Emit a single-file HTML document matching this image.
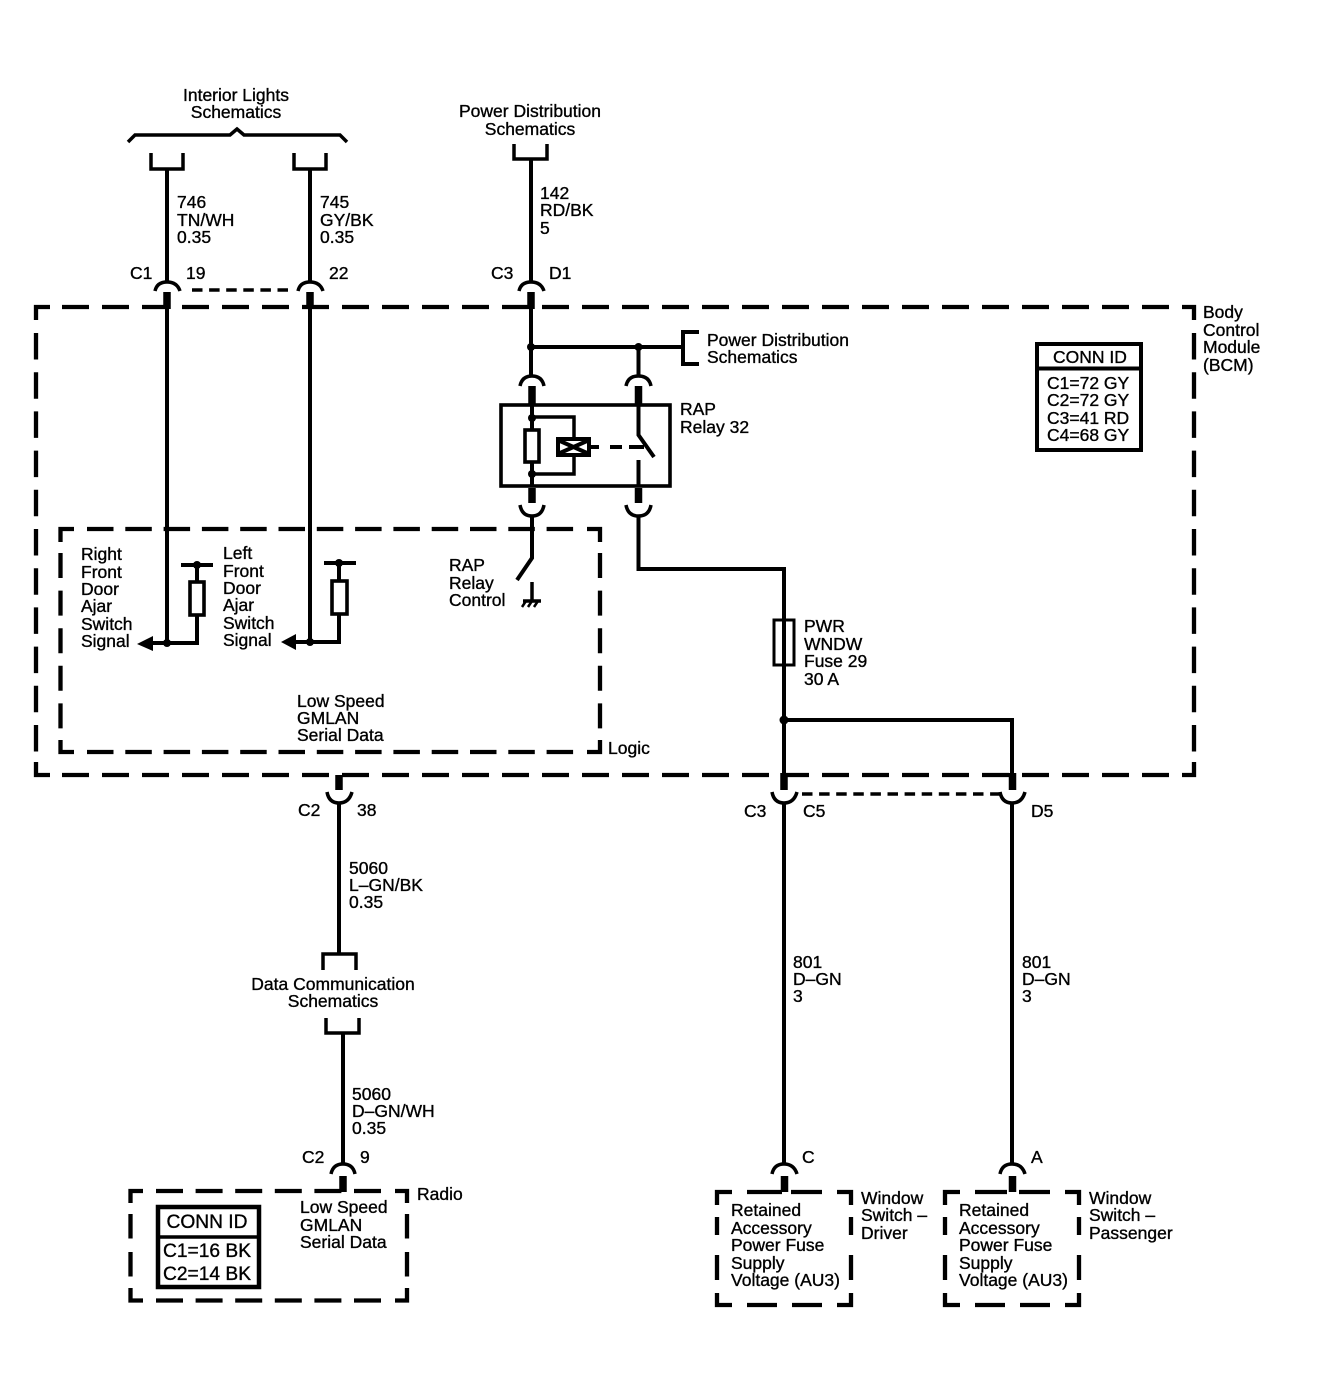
<!DOCTYPE html>
<html><head><meta charset="utf-8"><style>
html,body{margin:0;padding:0;background:#fff}
svg{display:block}
text{font-family:"Liberation Sans",sans-serif;font-size:17.5px;fill:#000;stroke:#000;stroke-width:.35px}
.w{fill:none;stroke:#000;stroke-width:4}
.t{fill:none;stroke:#000;stroke-width:3.5}
.b{fill:none;stroke:#000;stroke-width:7.5}
.d{fill:none;stroke:#000;stroke-width:4.3}
.s{fill:none;stroke:#000;stroke-width:3.5;stroke-dasharray:10.5 6.6}
.m{text-anchor:middle}
.cc{font-size:19.2px}
</style></head><body>
<svg xmlns="http://www.w3.org/2000/svg" width="1328" height="1392" viewBox="0 0 1328 1392">
<rect width="1328" height="1392" fill="#fff"/>
<!-- BCM dashed box -->
<path class="d" d="M36 320V307H50M1182 307H1194V320M36 762V775H50M1182 775H1194V762"/>
<path class="d" stroke-dasharray="27 13" d="M62 307H1170M62 775H1170"/>
<path class="d" stroke-dasharray="26.5 12.7" d="M36 333V752M1194 333V752"/>
<!-- Logic dashed box -->
<path class="d" d="M60.5 542V529H74M587 529H600V542M60.5 740V752H74M587 752H600V740"/>
<path class="d" stroke-dasharray="26.5 11.8" d="M87 529H574M87 752H574"/>
<path class="d" stroke-dasharray="25 12.6" d="M60.5 553V729M600 553V729"/>
<!-- Radio dashed box -->
<path class="d" d="M130.5 1203V1191H143M395 1191H407V1203M130.5 1288V1300.5H143M395 1300.5H407V1288"/>
<path class="d" stroke-dasharray="27 12.6" d="M156 1191H382M156 1300.5H382"/>
<path class="d" stroke-dasharray="24.5 13.5" d="M130.5 1214V1277M407 1214V1277"/>
<!-- Window boxes -->
<path class="d" d="M717 1205V1192H732M837 1192H851V1205M717 1293V1305H732M837 1305H851V1293M747 1192H782M791 1192H822M747 1305H777M792 1305H822M717 1217V1235M717 1255V1280M851 1217V1235M851 1255V1280"/>
<path class="d" d="M945 1205V1192H960M1065 1192H1079V1205M945 1293V1305H960M1065 1305H1079V1293M975 1192H1007M1019 1192H1050M975 1305H1005M1020 1305H1050M945 1217V1235M945 1255V1280M1079 1217V1235M1079 1255V1280"/>
<!-- top brace -->
<path class="t" d="M128 142L135 135H230L237 129L244 135H340L347 142"/>
<!-- top brackets and wires -->
<path class="t" d="M151 153V169H183V153M294 153V169H326V153M514 144V159H547V144"/>
<path class="w" d="M167 169V281M310 169V281M531 159V281"/>
<path class="t" d="M155 291Q157 282 167 282Q177 282 180 291M298 291Q300 282 310 282Q320 282 323 291M519 291Q521 282 531 282Q541 282 544 291"/>
<path class="s" d="M192 290H288"/>
<path class="b" d="M167 292V309M310 292V309M531 292V309"/>
<path class="w" d="M167 308V643M310 308V642M531 308V376M638.500 347V376"/>
<path class="w" d="M531 347H683"/>
<path class="w" d="M699 332H683V364H699"/>
<circle cx="531" cy="347" r="4"/><circle cx="638.500" cy="347" r="4"/>
<path class="t" d="M520 386Q522 376 532 376Q542 376 544 386M626 386Q628 376 638.500 376Q649 376 651 386"/>
<path class="b" d="M532 386V405M638.500 386V405"/>
<!-- relay -->
<rect x="501" y="405" width="169" height="81" fill="none" stroke="#000" stroke-width="3.6"/>
<path class="w" d="M532 405V486"/>
<rect x="525" y="430" width="14" height="32" fill="#fff" stroke="#000" stroke-width="3.6"/>
<circle cx="532" cy="418" r="4"/><circle cx="532" cy="474" r="4"/>
<path class="t" d="M532 417H574V437M574 455V474H532"/>
<rect x="558" y="439" width="31" height="16" fill="#fff" stroke="#000" stroke-width="4"/>
<path class="w" d="M560 441L587 453M560 453L587 441"/>
<path class="w" d="M591 447H599M610 447H622M629 447H644"/>
<path class="w" d="M638.500 405V435L654 457M638.500 460V486"/>
<path class="b" d="M532 488V503M638.500 488V503"/>
<path class="t" d="M520 505Q522 516 532 516Q542 516 544 505M626 505Q628 516 638.500 516Q649 516 651 505"/>
<path class="w" d="M532 516V558L517 580"/>
<path class="w" d="M638.500 516V569H784V775"/>
<path class="t" d="M532 582V601M523 601H541"/>
<path stroke="#000" stroke-width="2.5" fill="none" d="M522 607L526 601M528 607L532 601M534 607L538 601"/>
<!-- fuse -->
<rect x="774" y="620" width="20" height="45" fill="none" stroke="#000" stroke-width="3"/>
<path class="w" d="M784 720H1012V775"/>
<circle cx="784" cy="720" r="4.500"/>
<path class="b" d="M784 773V790M1012.500 773V790M339 775V790"/>
<path class="t" d="M772 792Q774 803 784 803Q794 803 797 792M1000 792Q1002 803 1012 803Q1022 803 1025 792M327 792Q329 803 339 803Q349 803 352 792"/>
<path class="s" d="M802 794H1000"/>
<path class="w" d="M784 803V1165M1012 803V1165M339 803V954M343 1033V1165"/>
<path class="t" d="M323 970V954H356V970M326 1018V1033H359V1018"/>
<path class="t" d="M772 1174Q774 1164 784 1164Q794 1164 797 1174M1000 1174Q1002 1164 1012 1164Q1022 1164 1025 1174M331 1174Q333 1164 343 1164Q353 1164 355 1174"/>
<path class="b" d="M784.500 1176V1192M1012.500 1176V1192M343 1176V1192"/>
<!-- door signals -->
<path d="M137 644L153 636V651Z"/><path d="M281 642L296 634V650Z"/>
<path class="w" d="M153 643H197V565M296 642H339V563"/>
<path class="w" d="M181 565H213M324 563H356"/>
<circle cx="167" cy="643" r="4"/><circle cx="197" cy="565" r="4"/><circle cx="310" cy="642" r="4"/><circle cx="339" cy="563" r="4"/>
<rect x="190" y="582" width="14" height="33" fill="#fff" stroke="#000" stroke-width="3.600"/>
<rect x="332" y="581" width="15" height="33" fill="#fff" stroke="#000" stroke-width="3.600"/>
<!-- conn boxes -->
<rect x="1037" y="344" width="104" height="106" fill="#fff" stroke="#000" stroke-width="4"/>
<path class="w" d="M1037 368.500H1141"/>
<rect x="158" y="1207" width="101" height="80" fill="#fff" stroke="#000" stroke-width="4.500"/>
<path class="t" d="M157 1237H260"/>
<!-- text -->
<text class="m" x="236" y="101">Interior Lights</text><text class="m" x="236" y="118">Schematics</text>
<text class="m" x="530" y="117">Power Distribution</text><text class="m" x="530" y="135">Schematics</text>
<text x="177" y="208">746</text><text x="177" y="226">TN/WH</text><text x="177" y="243">0.35</text>
<text x="320" y="208">745</text><text x="320" y="226">GY/BK</text><text x="320" y="243">0.35</text>
<text x="540" y="199">142</text><text x="540" y="216">RD/BK</text><text x="540" y="234">5</text>
<text x="130" y="279">C1</text><text x="186" y="279">19</text><text x="329" y="279">22</text>
<text x="491" y="279">C3</text><text x="549" y="279">D1</text>
<text x="707" y="346">Power Distribution</text><text x="707" y="363">Schematics</text>
<text x="1203" y="318">Body</text><text x="1203" y="336">Control</text><text x="1203" y="353">Module</text><text x="1203" y="371">(BCM)</text>
<text class="m" x="1090" y="363">CONN ID</text>
<text x="1047" y="389">C1=72 GY</text><text x="1047" y="406">C2=72 GY</text><text x="1047" y="424">C3=41 RD</text><text x="1047" y="441">C4=68 GY</text>
<text x="680" y="415">RAP</text><text x="680" y="433">Relay 32</text>
<text x="81" y="560">Right</text><text x="81" y="578">Front</text><text x="81" y="595">Door</text><text x="81" y="612">Ajar</text><text x="81" y="630">Switch</text><text x="81" y="647">Signal</text>
<text x="223" y="559">Left</text><text x="223" y="577">Front</text><text x="223" y="594">Door</text><text x="223" y="611">Ajar</text><text x="223" y="629">Switch</text><text x="223" y="646">Signal</text>
<text x="449" y="571">RAP</text><text x="449" y="589">Relay</text><text x="449" y="606">Control</text>
<text x="297" y="707">Low Speed</text><text x="297" y="724">GMLAN</text><text x="297" y="741">Serial Data</text>
<text x="608" y="754">Logic</text>
<text x="804" y="632">PWR</text><text x="804" y="650">WNDW</text><text x="804" y="667">Fuse 29</text><text x="804" y="685">30 A</text>
<text x="298" y="816">C2</text><text x="357" y="816">38</text>
<text x="744" y="817">C3</text><text x="803" y="817">C5</text><text x="1031" y="817">D5</text>
<text x="349" y="874">5060</text><text x="349" y="891">L&#8211;GN/BK</text><text x="349" y="908">0.35</text>
<text class="m" x="333" y="990">Data Communication</text><text class="m" x="333" y="1007">Schematics</text>
<text x="352" y="1100">5060</text><text x="352" y="1117">D&#8211;GN/WH</text><text x="352" y="1134">0.35</text>
<text x="793" y="968">801</text><text x="793" y="985">D&#8211;GN</text><text x="793" y="1002">3</text>
<text x="1022" y="968">801</text><text x="1022" y="985">D&#8211;GN</text><text x="1022" y="1002">3</text>
<text x="302" y="1163">C2</text><text x="360" y="1163">9</text>
<text x="802" y="1163">C</text><text x="1031" y="1163">A</text>
<text x="417" y="1200">Radio</text>
<text x="300" y="1213">Low Speed</text><text x="300" y="1231">GMLAN</text><text x="300" y="1248">Serial Data</text>
<text class="m cc" x="207" y="1228">CONN ID</text>
<text class="cc" x="163" y="1257">C1=16 BK</text><text class="cc" x="163" y="1280">C2=14 BK</text>
<text x="731" y="1216">Retained</text><text x="731" y="1234">Accessory</text><text x="731" y="1251">Power Fuse</text><text x="731" y="1269">Supply</text><text x="731" y="1286">Voltage (AU3)</text>
<text x="959" y="1216">Retained</text><text x="959" y="1234">Accessory</text><text x="959" y="1251">Power Fuse</text><text x="959" y="1269">Supply</text><text x="959" y="1286">Voltage (AU3)</text>
<text x="861" y="1204">Window</text><text x="861" y="1221">Switch &#8211;</text><text x="861" y="1239">Driver</text>
<text x="1089" y="1204">Window</text><text x="1089" y="1221">Switch &#8211;</text><text x="1089" y="1239">Passenger</text>
</svg>
</body></html>
